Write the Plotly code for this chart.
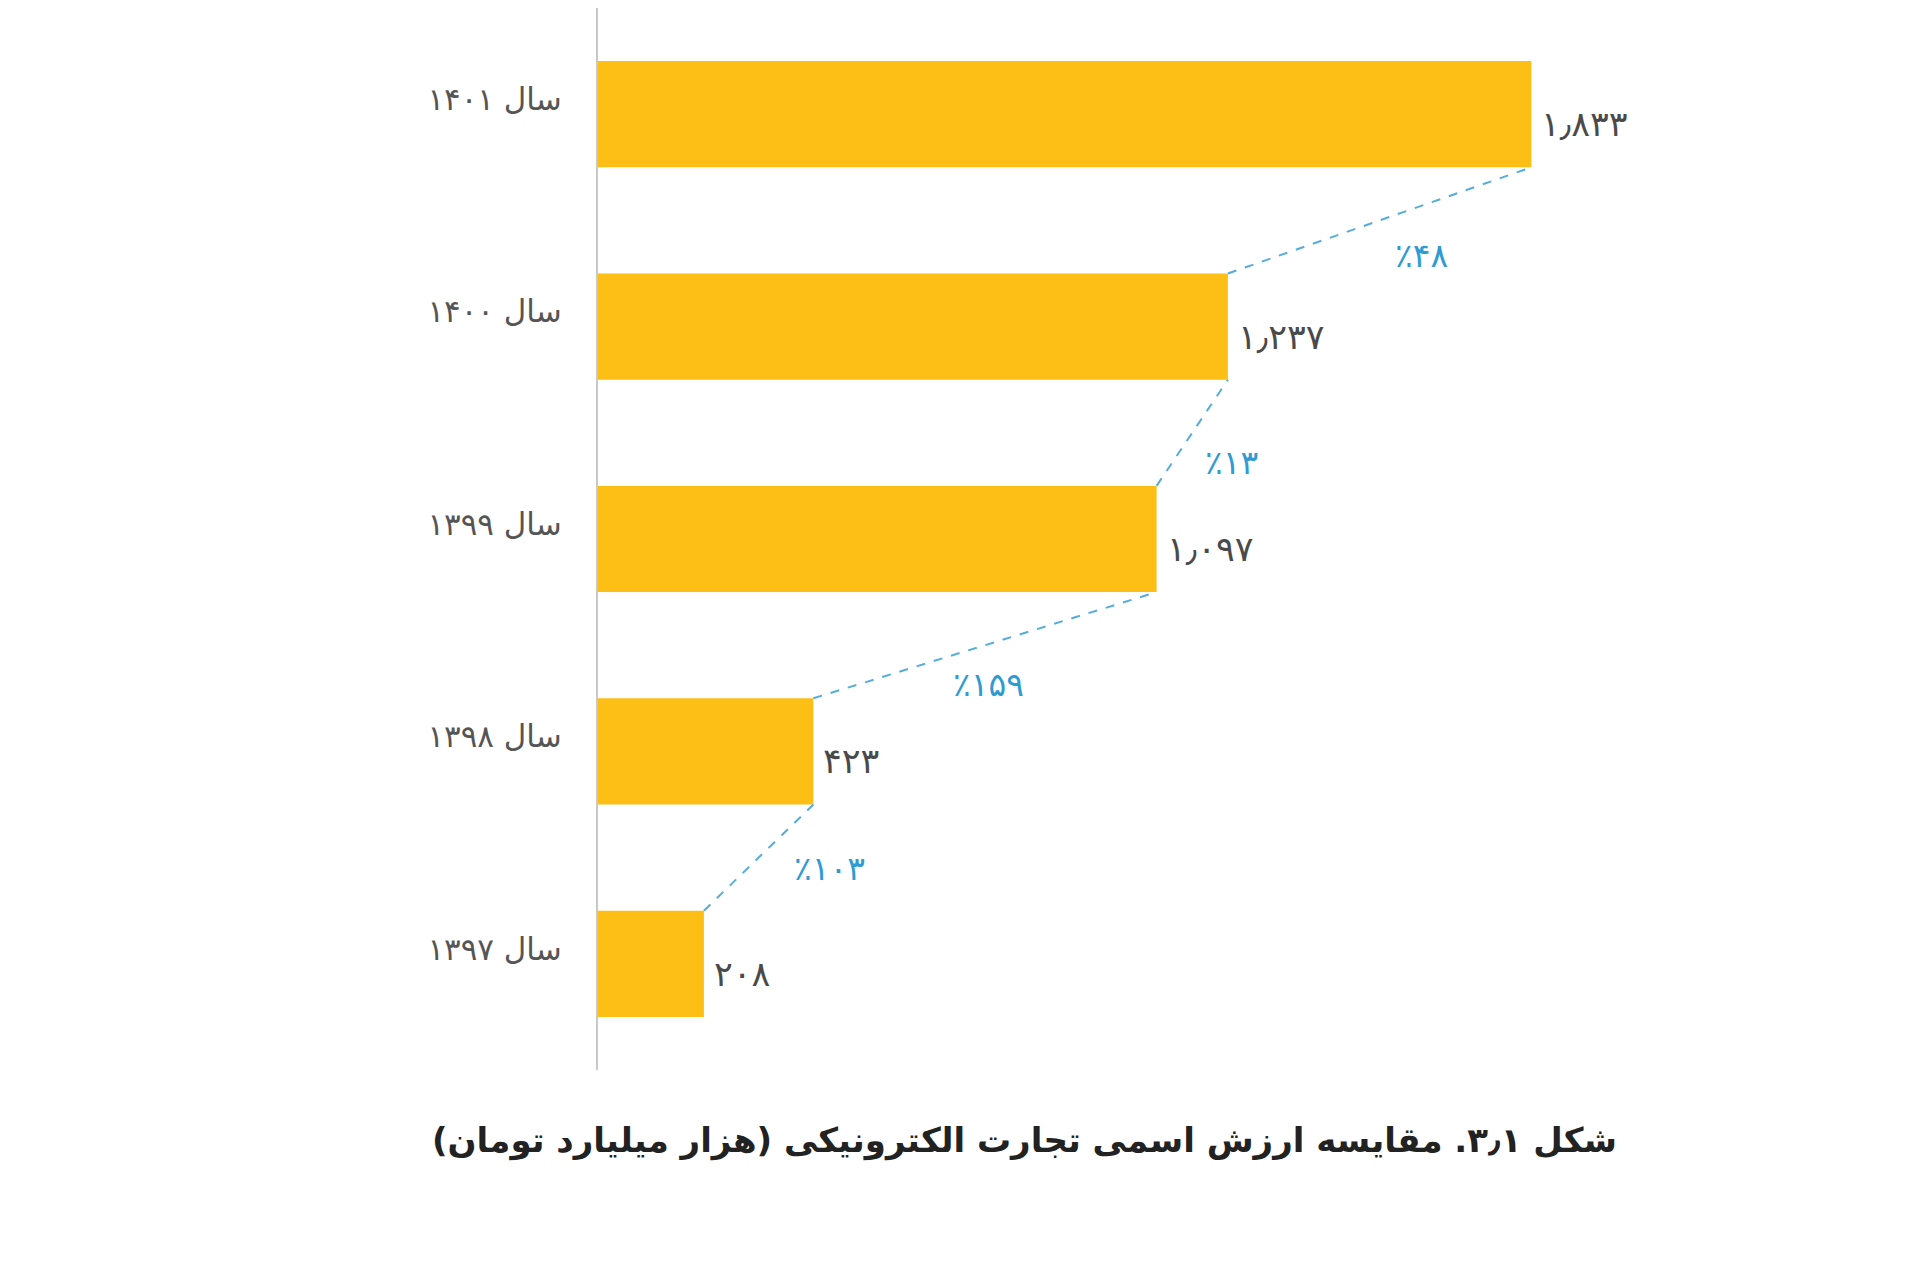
import plotly.graph_objects as go

# داده‌ها (از پایین به بالا)
years = ["سال ۱۳۹۷", "سال ۱۳۹۸", "سال ۱۳۹۹", "سال ۱۴۰۰", "سال ۱۴۰۱"]
values = [208, 423, 1097, 1237, 1833]
value_labels = ["۲۰۸", "۴۲۳", "۱٫۰۹۷", "۱٫۲۳۷", "۱٫۸۳۳"]
growth_labels = ["٪۱۰۳", "٪۱۵۹", "٪۱۳", "٪۴۸"]

title_text = "شکل ۳٫۱. مقایسه ارزش اسمی تجارت الکترونیکی (هزار میلیارد تومان)\u200f"

font_fa = "DejaVu Sans"
bar_color = "#FDBE16"
blue = "#2E9BD2"

pos = list(range(len(years)))
half = 0.25

fig = go.Figure()

fig.add_trace(go.Bar(
    x=values, y=pos, orientation="h", width=2 * half,
    marker=dict(color=bar_color, line=dict(width=0)),
    hoverinfo="skip",
))

# برچسب مقدار کنار هر میله
for v, p, lab in zip(values, pos, value_labels):
    fig.add_annotation(
        x=v, y=p, text=lab, showarrow=False,
        xanchor="left", yanchor="middle", xshift=8, yshift=-10,
        font=dict(family=font_fa, size=35, color="#4a4a4a"),
    )

# خطوط رشد بین میله‌ها
shifts = [(71, -11), (4, -39), (39, -30), (42, -35)]
for i in range(len(values) - 1):
    xs = [values[i], values[i + 1]]
    ys = [pos[i] + half, pos[i + 1] - half]
    fig.add_trace(go.Scatter(
        x=xs, y=ys, mode="lines",
        line=dict(color="#55ADDB", width=2, dash="dash"),
        hoverinfo="skip",
    ))
    fig.add_annotation(
        x=sum(xs) / 2, y=sum(ys) / 2, text=growth_labels[i],
        showarrow=False, xshift=shifts[i][0], yshift=shifts[i][1],
        font=dict(family=font_fa, size=33, color=blue),
    )

fig.add_annotation(
    xref="paper", yref="paper", x=0.335, y=-0.066,
    text="<b>" + title_text + "</b>", showarrow=False,
    font=dict(family=font_fa, size=34, color="#222222"),
    xanchor="center", yanchor="middle",
)

fig.update_layout(
    width=1920, height=1272,
    margin=dict(l=590, r=57, t=0, b=210),
    paper_bgcolor="white", plot_bgcolor="white",
    showlegend=False,
    xaxis=dict(range=[0, 2500], visible=False),
    yaxis=dict(
        range=[-0.5, 4.5], tickvals=pos, ticktext=years,
        showline=True, linecolor="#C8C8C8", linewidth=2,
        showgrid=False, zeroline=False, ticks="",
        ticklabelstandoff=28, ticklabelshift=-15,
        tickfont=dict(family=font_fa, size=31, color="#555555"),
    ),
)

fig.write_html("out.html")
